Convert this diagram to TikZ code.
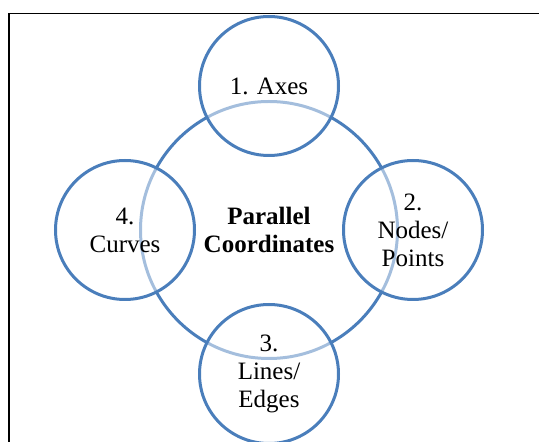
\documentclass[tikz,border=0pt]{standalone}
\usepackage{fontspec}
\setmainfont{Liberation Serif}
\usetikzlibrary{positioning}
\definecolor{ringblue}{RGB}{74,126,187}

\begin{document}
\begin{tikzpicture}[x=1pt, y=1pt,
  hub/.style={circle, draw=ringblue, line width=3pt, outer sep=0pt,
              minimum size=257pt, inner sep=0pt, align=center,
              font=\fontsize{25}{28}\selectfont\bfseries},
  part/.style={circle, draw=ringblue, line width=3pt, outer sep=0pt,
               minimum size=139pt, inner sep=0pt, align=center,
               fill=white, fill opacity=0.5, text opacity=1,
               font=\fontsize{25}{28}\selectfont},
  node distance=-54pt
]
  \useasboundingbox (0,0) rectangle (539,442);
  % frame, cut by the page on the right and at the bottom
  \draw[line width=1.5pt] (9,-20) rectangle (560,428.5);

  \node[hub] (pc) at (269,212) {Parallel\\Coordinates};
  \node[part, above=of pc] (axes)  {1. Axes};
  \node[part, right=of pc] (nodes) {2.\\Nodes/\\Points};
  \node[part, below=of pc] (lines) {3.\\Lines/\\Edges};
  \node[part, left=of pc]  (curves) {4.\\Curves};
\end{tikzpicture}
\end{document}
